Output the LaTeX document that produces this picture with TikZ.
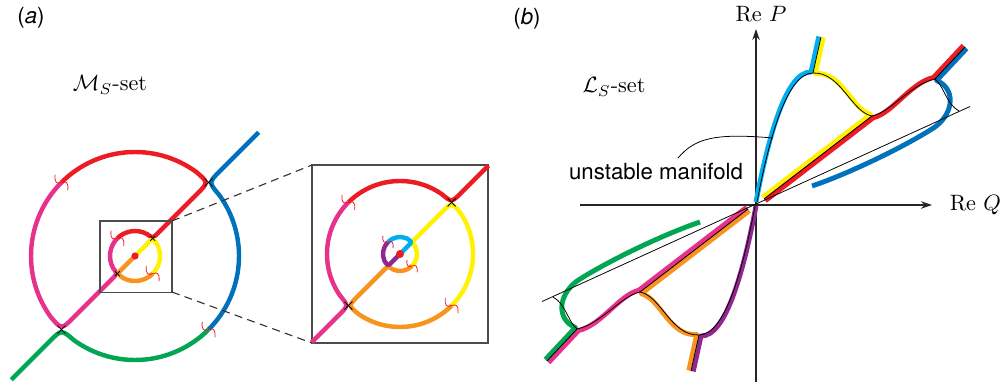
\documentclass[tikz,border=0pt]{standalone}
\usepackage{fontspec}
\setsansfont{TeX Gyre Heros}
\usepackage{amsmath}
\usetikzlibrary{arrows.meta,positioning,calc}

\definecolor{setred}{RGB}{237,28,36}
\definecolor{setblue}{RGB}{0,114,188}
\definecolor{setgreen}{RGB}{0,166,81}
\definecolor{setpink}{RGB}{231,50,140}
\definecolor{setyellow}{RGB}{255,242,0}
\definecolor{setorange}{RGB}{247,148,29}
\definecolor{setcyan}{RGB}{0,174,239}
\definecolor{setpurple}{RGB}{146,39,143}

% one half of the L_S-set, the other one is the same turned by 180 degrees
\newcommand{\halfset}[4]{%
  \draw[curve, #1] (0,-2) .. controls (11,-60) and (29,-133) .. (55,-132) -- (62.8,-167.5);
  \draw[curve, #2] (67.2,-166.5) -- (59.2,-130.5) .. controls (86,-133) and (96,-94) .. (114.7,-89.7) -- (6.7,-6.7);
  \draw[curve, #3] (9.3,-3.3) -- (117.3,-86.3) .. controls (136,-90.5) and (155,-121.5) .. (177.4,-126.5) -- (207.4,-158.5);
  \draw[curve, #4] (210.6,-155.5) -- (180.6,-123.5) .. controls (199,-116) and (199,-92) .. (179,-77) .. controls (150,-58) and (92,-30) .. (56,-18);
  \draw[manifold] (1,-2) .. controls (12,-60) and (30,-131) .. (57,-131) -- (65,-167);
  \draw[manifold] (57,-131) .. controls (85,-132) and (95,-92) .. (116,-88) -- (8,-5);
  \draw[manifold] (116,-88) .. controls (135,-92) and (155,-120) .. (179,-125) -- (209,-157);
  \draw[manifold] (179,-125) .. controls (188,-118) and (190,-100) .. (203,-93);
}

\begin{document}
\begin{tikzpicture}[
    x=0.45pt, y=-0.45pt,
    setline/.style={line width=2pt, line join=round},
    curve/.style={line width=2.2pt, line join=round},
    manifold/.style={black, line width=0.35pt},
    framebox/.style={draw=black!70, line width=0.5pt, inner sep=0pt, outer sep=0pt},
    zoomline/.style={black!80, line width=0.5pt, dash pattern=on 3.6pt off 2.4pt},
    axis/.style={black!85, line width=0.5pt, -{Stealth[length=5pt, width=3.4pt]}},
    redtick/.pic={\draw[setred, line width=0.35pt] (10,1) .. controls (4,-6) and (2,-4) .. (0,0) .. controls (-2,4) and (-4,6) .. (-10,-1);},
    crossmark/.pic={\draw[black, line width=0.35pt] (-4,-4) -- (4,4) (-4,4) -- (4,-4);}
  ]
  \useasboundingbox (0,0) rectangle (1001,385);

  % Labels
  \node[font=\sffamily] (lbla) at (31,18) {(\textit{a})};
  \node[font=\sffamily] (lblb) at (527,19) {(\textit{b})};
  \node (msset) at (110,85) {$\mathcal{M}_S$-set};
  \node (lsset) at (614,87) {$\mathcal{L}_S$-set};
  \node (rep) at (761,14) {Re $P$};
  \node[anchor=west] (req) at (942,205) {Re $Q$};
  \node[font=\sffamily] (manlbl) at (656,172) {unstable manifold};

  % M_S-set
  \begin{scope}[shift={(135,256)}, yscale=-1]
    \draw[setline, setred] (135:104) arc[start angle=135, end angle=54, radius=104] .. controls (45:104) .. (45:88) -- (45:32) .. controls (45:25) .. (61:25) arc[start angle=61, end angle=135, radius=25];
    \draw[setline, setblue] (45:175) -- (45:120) .. controls (45:104) .. (36:104) arc[start angle=36, end angle=-45, radius=104];
    \draw[setline, setgreen] (-45:104) arc[start angle=-45, end angle=-126, radius=104] .. controls (225:104) .. (225:120) -- (225:175);
    \draw[setline, setpink] (135:104) arc[start angle=135, end angle=216, radius=104] .. controls (225:104) .. (225:88) -- (225:32) .. controls (225:25) .. (209:25) arc[start angle=209, end angle=135, radius=25];
    \draw[setline, setyellow] (45:2) -- (45:18) .. controls (45:25) .. (29:25) arc[start angle=29, end angle=-45, radius=25];
    \draw[setline, setorange] (-45:25) arc[start angle=-45, end angle=-119, radius=25] .. controls (225:25) .. (225:18) -- (225:2);
    \fill[setred] (0,0) circle[radius=3.6];
    \pic[rotate=135] at (135:104) {redtick};
    \pic[rotate=-45] at (-45:104) {redtick};
    \pic[rotate=135] at (135:25) {redtick};
    \pic[rotate=-45] at (-45:25) {redtick};
    \pic at (45:104) {crossmark};
    \pic at (225:104) {crossmark};
    \pic[scale=0.6] at (45:25) {crossmark};
    \pic[scale=0.6] at (225:25) {crossmark};
  \end{scope}

  % zoomed part
  \node[framebox, minimum width=32.4pt, minimum height=32pt] (zoomsrc) at (136,256.5) {};
  \node[framebox, minimum width=79.2pt, minimum height=80.1pt] (zoominset) at (400,254) {};
  \draw[zoomline] (zoomsrc.north east) -- (zoominset.north west);
  \draw[zoomline] (zoomsrc.south east) -- (zoominset.south west);

  \begin{scope}[shift={(400,254)}, yscale=-1]
    \draw[setline, setred] (135:73) arc[start angle=135, end angle=55, radius=73] .. controls (45:73) .. (45:86) -- (45:125);
    \draw[setline, setpink] (135:73) arc[start angle=135, end angle=215, radius=73] .. controls (225:73) .. (225:86) -- (225:125);
    \draw[setline, setyellow] (-45:17) arc[start angle=-45, end angle=25, radius=17] .. controls (45:17) .. (45:23) -- (45:60) .. controls (45:73) .. (35:73) arc[start angle=35, end angle=-45, radius=73];
    \draw[setline, setorange] (-45:17) arc[start angle=-45, end angle=-115, radius=17] .. controls (225:17) .. (225:23) -- (225:60) .. controls (225:73) .. (-125:73) arc[start angle=-125, end angle=-45, radius=73];
    \draw[setline, setcyan] (135:17) arc[start angle=135, end angle=65, radius=17] .. controls (45:17) .. (45:11) -- (45:2);
    \draw[setline, setpurple] (135:17) arc[start angle=135, end angle=205, radius=17] .. controls (225:17) .. (225:11) -- (225:2);
    \fill[setred] (0,0) circle[radius=4];
    \pic[rotate=135] at (135:73) {redtick};
    \pic[rotate=-45] at (-45:73) {redtick};
    \pic[rotate=135, scale=0.8] at (135:17) {redtick};
    \pic[rotate=-45, scale=0.8] at (-45:17) {redtick};
    \pic at (45:73) {crossmark};
    \pic at (225:73) {crossmark};
  \end{scope}

  % L_S-set
  \coordinate (pbot) at (756,382);
  \coordinate (ptop) at (756,29);
  \coordinate (qleft) at (580,205);
  \coordinate (qright) at (932,205);
  \draw[axis] (pbot) -- (ptop);
  \draw[axis] (qleft) -- (qright);

  \begin{scope}[shift={(756,204)}]
    \halfset{setcyan}{setyellow}{setred}{setblue}
    \begin{scope}[rotate=180]
      \halfset{setpurple}{setorange}{setpink}{setgreen}
    \end{scope}
    \draw[manifold] (-214,97.5) -- (214,-97.5);
  \end{scope}

  \coordinate (leadstart) at (678,158);
  \coordinate (leadend) at (773,138);
  \draw[manifold] (leadstart) .. controls (695,138) and (715,133) .. (leadend);
\end{tikzpicture}
\end{document}
